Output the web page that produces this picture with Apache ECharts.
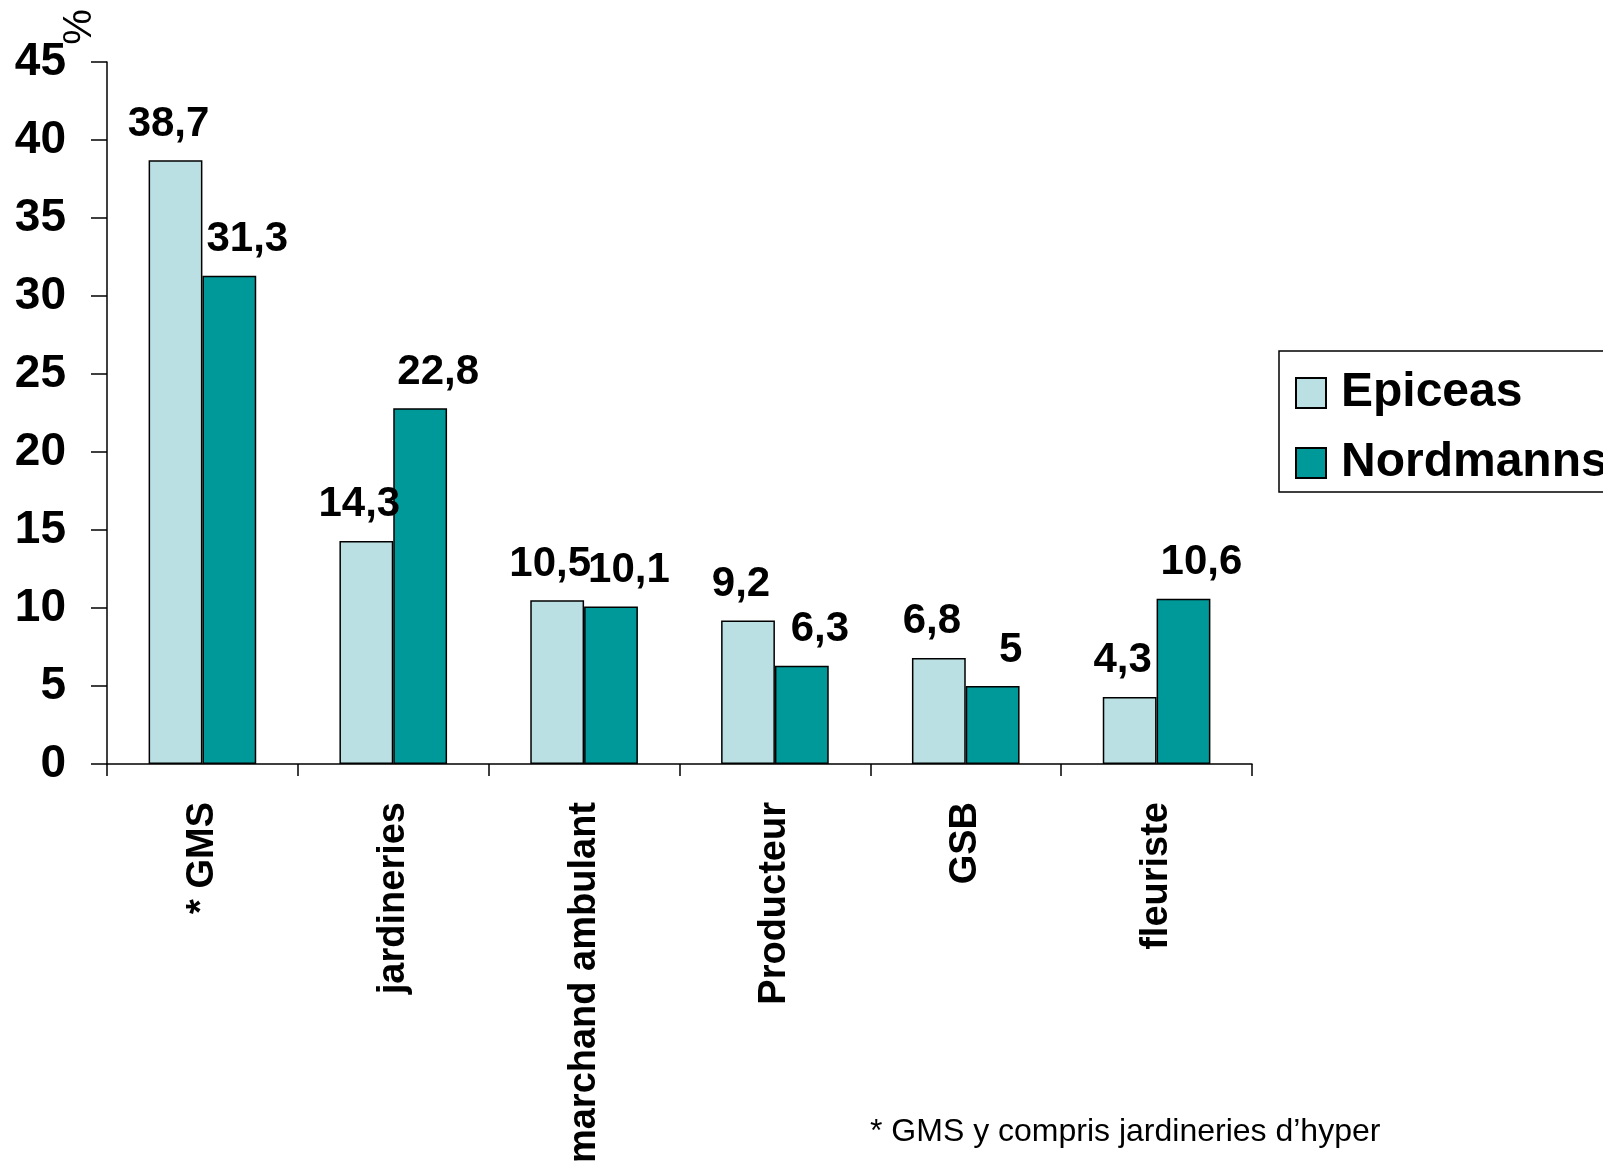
<!DOCTYPE html>
<html>
<head>
<meta charset="utf-8">
<title>Epiceas / Nordmanns</title>
<script src="https://cdn.jsdelivr.net/npm/echarts@6/dist/echarts.min.js"></script>
<style>
  html, body { margin: 0; padding: 0; background: #ffffff; }
  #chart { width: 1603px; height: 1168px; }
</style>
</head>
<body>
<div id="chart"></div>
<script>
// Lieux d'achat du sapin, en % des acheteurs
const categories = ['* GMS', 'jardineries', 'marchand ambulant', 'Producteur', 'GSB', 'fleuriste'];
const epiceas = [38.7, 14.3, 10.5, 9.2, 6.8, 4.3];
const nordmanns = [31.3, 22.8, 10.1, 6.3, 5, 10.6];
const seriesNames = ['Epiceas', 'Nordmanns'];
const yTicks = { min: 0, max: 45, interval: 5 };
const footnote = '* GMS y compris jardineries d\u2019hyper';

const FONT = '"Liberation Sans", Arial, Helvetica, sans-serif';

// French decimal comma for the value labels
const frNumber = v => String(v).replace('.', ',');

const chart = echarts.init(document.getElementById('chart'), null, { renderer: 'canvas' });

function barSeries(name, values, color, labelOffset) {
  return {
    name: name,
    type: 'bar',
    data: values,
    barGap: '0%',
    barCategoryGap: '43.6%',
    itemStyle: { color: color, borderColor: '#000000', borderWidth: 1.5 },
    label: {
      show: true,
      position: 'top',
      distance: 15,
      offset: labelOffset,
      color: '#000000',
      fontFamily: FONT,
      fontWeight: 'bold',
      fontSize: 42,
      formatter: p => frNumber(p.value)
    },
    emphasis: { disabled: true },
    animation: false
  };
}

chart.setOption({
  backgroundColor: '#ffffff',
  animation: false,
  textStyle: { fontFamily: FONT },
  grid: { left: 107, right: 351, top: 62, bottom: 404, containLabel: false },
  legend: {
    orient: 'vertical',
    left: 1279,
    top: 351,
    padding: [17, 300, 4, 16],
    itemGap: 20,
    itemWidth: 30,
    itemHeight: 30,
    icon: 'rect',
    borderColor: '#000000',
    borderWidth: 1.5,
    selectedMode: false,
    data: seriesNames,
    textStyle: {
      color: '#000000',
      fontFamily: FONT,
      fontWeight: 'bold',
      fontSize: 48,
      lineHeight: 50,
      padding: [0, 0, 0, 10]
    }
  },
  xAxis: {
    type: 'category',
    data: categories,
    axisLine: { show: true, lineStyle: { color: '#000000', width: 1.5 } },
    axisTick: { show: true, length: 12, alignWithLabel: false, lineStyle: { color: '#000000', width: 1.5 } },
    axisLabel: {
      rotate: 90,
      interval: 0,
      margin: 38,
      color: '#000000',
      fontFamily: FONT,
      fontWeight: 'bold',
      fontSize: 38
    },
    splitLine: { show: false }
  },
  yAxis: {
    type: 'value',
    min: yTicks.min,
    max: yTicks.max,
    interval: yTicks.interval,
    axisLine: { show: true, lineStyle: { color: '#000000', width: 1.5 } },
    axisTick: { show: true, length: 16, lineStyle: { color: '#000000', width: 1.5 } },
    axisLabel: {
      margin: 41,
      color: '#000000',
      fontFamily: FONT,
      fontWeight: 'bold',
      fontSize: 46
    },
    splitLine: { show: false }
  },
  graphic: [
    {
      // unit of the value axis, set on its side
      type: 'text',
      x: 80,
      y: 27,
      rotation: Math.PI / 2,
      style: {
        text: '%',
        fill: '#000000',
        font: '40px ' + FONT,
        textAlign: 'center',
        textVerticalAlign: 'middle'
      }
    },
    {
      type: 'text',
      left: 870,
      top: 1116,
      style: {
        text: footnote,
        fill: '#000000',
        font: '32px ' + FONT
      }
    }
  ],
  series: [
    barSeries(seriesNames[0], epiceas, '#BBE0E3', [-7, 0]),
    barSeries(seriesNames[1], nordmanns, '#009999', [18, 0])
  ]
});
</script>
</body>
</html>
